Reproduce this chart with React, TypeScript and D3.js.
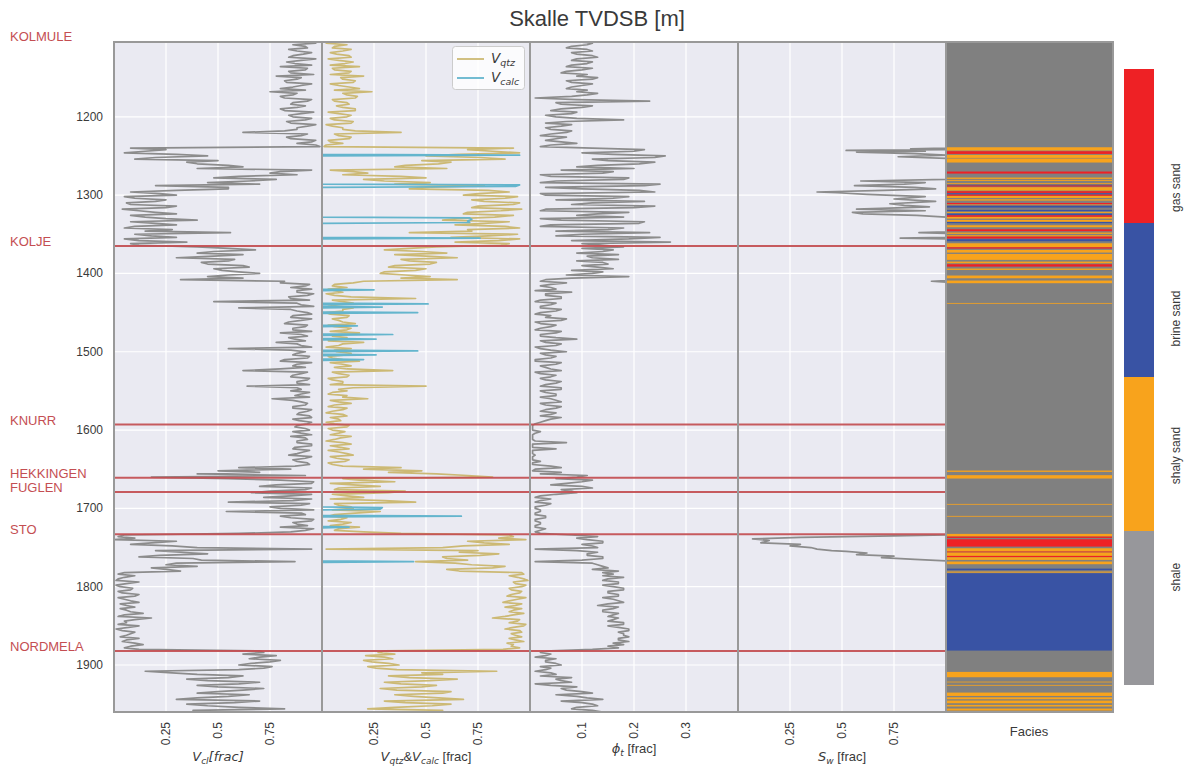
import React from "react";
import * as d3 from "d3";

// ---------------------------------------------------------------------------
// Log data. Each row: depth (m TVDSB) of the first sample, then one sample
// every DEPTH_STEP metres. The *_B rows hold the second reading of each
// interval, taken half a step deeper.
// ---------------------------------------------------------------------------
const DEPTH_STEP = 4;

const VCL_ROWS: number[][] = [
  [1104, .90, .86, .93, .88, .91, .84, .90, .87, .80, .92, .85, .78, .88, .83, .90, .80, .75, .86, .82, .93, .85, .88, .82, .90, .86, .92, .85, .93, .88, .62, .90, .85, .95, .97],
  [1240, .08, .15, .30, .20, .50, .40, .62, .95, .75, .60, .78, .45, .20, .55, .08, .30, .10, .20, .08, .25, .12, .30, .15, .40, .20, .10, .28, .56, .18, .05, .35, .12],
  [1368, .55, .48, .62, .30, .55, .45, .65, .52, .70, .45, .32, .80],
  [1416, .92, .95, .88, .93, .85, .48, .90, .60, .88, .95, .85, .90, .82, .92, .86, .80, .93, .87, .78, .90, .55, .92, .86, .93, .80, .88, .92, .62, .90, .85, .93],
  [1540, .88, .64, .90, .94, .87, .76, .90, .92, .86, .93, .88, .95, .89, .93, .87, .94, .90, .85, .93, .88, .95, .86, .91, .84, .92, .88, .94],
  [1648, .60, .50, .40, .18, .80, .95, .70, .92, .66, .85, .95, .55, .90, .80, .54, .92, .85, .95, .88, .80, .92, .60],
  [1736, .02, .00, .18, .28, .95, .32, .22, .38, .87, .25, .18, .32],
  [1784, .02, .05, .01, .06, .03, .08, .04, .10, .05, .12, .06, .03, .08, .05, .18, .05, .02, .07, .04, .08, .03, .06, .10, .08, .12],
  [1884, .72, .78, .65, .75, .60, .72, .15, .40, .55, .45, .60, .50, .62, .40, .55, .30, .58, .45, .82, .50],
];
const VCL_B_ROWS: number[][] = [
  [1106, .97, .92, .84, .95, .86, .97, .83, .95, .93, .84, .96, .90, .82, .95, .86, .92, .88, .80, .95, .86, .92, .80, .96, .84, .95, .83, .97, .88, .82, .93, .83, .97, .88, .99],
  [1242, .25, .05, .45, .10, .35, .55, .40, .80, .88, .48, .65, .70, .55, .30, .22, .05, .25, .06, .30, .04, .20, .08, .25, .08, .30, .05, .15, .10, .30, .12, .08, .40],
  [1370, .68, .40, .48, .58, .42, .62, .48, .60, .55, .62, .82, .94],
  [1418, .85, .88, .96, .84, .94, .88, .96, .85, .93, .86, .95, .84, .93, .86, .95, .90, .84, .92, .88, .95, .85, .88, .94, .82, .95, .86, .80, .93, .86, .94, .88],
  [1542, .94, .88, .85, .90, .94, .86, .93, .86, .95, .89, .94, .86, .95, .88, .92, .86, .95, .92, .88, .95, .87, .94, .88, .95, .86, .93, .87],
  [1650, .85, .70, .92, .55, .96, .78, .95, .75, .95, .72, .86, .94, .75, .96, .90, .80, .96, .86, .93, .96, .85, .05],
  [1738, .10, .30, .08, .40, .20, .45, .12, .42, .30, .40, .25, .05],
  [1786, .10, .02, .12, .01, .09, .02, .12, .02, .08, .03, .10, .06, .14, .02, .10, .06, .12, .01, .10, .06, .12, .04, .14, .05, .70],
  [1886, .62, .70, .80, .66, .76, .60, .28, .62, .35, .70, .40, .72, .50, .65, .40, .70, .35, .60, .38],
];

const VQTZ_ROWS: number[][] = [
  [1104, .08, .12, .05, .10, .07, .14, .08, .11, .18, .06, .13, .20, .10, .15, .08, .18, .24, .12, .16, .06, .13, .10, .16, .08, .12, .06, .14, .05, .10, .38, .08, .13, .04, .02],
  [1240, .92, .82, .66, .76, .48, .56, .35, .04, .22, .38, .20, .52, .78, .42, .90, .68, .88, .78, .92, .72, .86, .68, .83, .58, .78, .88, .70, .42, .80, .95, .64, .86],
  [1368, .42, .48, .35, .65, .42, .52, .32, .45, .28, .52, .65, .15],
  [1416, .05, .03, .10, .06, .45, .10, .08, .15, .10, .04, .12, .08, .16, .06, .12, .18, .05, .10, .20, .08, .14, .07, .12, .05, .18, .10, .06, .34, .08, .12, .05],
  [1540, .10, .50, .08, .05, .12, .22, .08, .06, .12, .05, .10, .04, .09, .06, .12, .05, .08, .14, .06, .10, .04, .13, .08, .15, .07, .11, .05],
  [1648, .38, .48, .55, .82, .18, .04, .28, .06, .32, .12, .04, .45, .08, .15, .28, .06, .12, .03, .10, .18, .06, .38],
  [1736, .92, .98, .78, .68, .02, .66, .76, .60, .45, .72, .82, .66],
  [1784, .97, .94, .99, .93, .96, .91, .95, .89, .94, .87, .93, .96, .90, .92, .82, .94, .98, .92, .95, .91, .96, .93, .89, .91, .87],
  [1884, .27, .21, .34, .24, .37, .26, .84, .58, .42, .52, .38, .48, .36, .58, .44, .68, .40, .53, .22, .48],
];
const VQTZ_B_ROWS: number[][] = [
  [1106, .02, .06, .14, .04, .13, .03, .15, .04, .05, .14, .04, .09, .16, .04, .13, .06, .10, .17, .05, .12, .07, .16, .03, .14, .04, .15, .02, .10, .16, .06, .14, .03, .10, .01],
  [1242, .70, .95, .50, .88, .62, .40, .60, .15, .10, .50, .30, .35, .48, .80, .75, .94, .72, .95, .75, .96, .70, .92, .65, .90, .64, .95, .72, .94, .62, .85, .90, .55],
  [1370, .30, .60, .50, .38, .55, .35, .50, .30, .40, .38, .20, .06],
  [1418, .12, .06, .02, .14, .05, .15, .03, .10, .02, .13, .05, .10, .03, .14, .04, .08, .12, .03, .10, .02, .06, .14, .03, .10, .04, .14, .12, .05, .13, .03, .10],
  [1542, .04, .15, .12, .03, .10, .04, .14, .03, .10, .02, .12, .08, .02, .13, .03, .11, .04, .09, .02, .14, .09, .03, .12, .04, .13, .03, .10],
  [1650, .20, .32, .70, .10, .35, .15, .08, .40, .05, .20, .30, .06, .14, .05, .16, .03, .09, .14, .04, .08, .20, .90],
  [1738, .85, .70, .90, .58, .75, .85, .58, .70, .64, .88, .60, .96],
  [1786, .90, .97, .92, .98, .90, .96, .91, .98, .90, .96, .88, .92, .97, .88, .95, .90, .97, .88, .96, .93, .90, .97, .92, .95, .30],
  [1886, .35, .30, .20, .32, .22, .36, .48, .32, .65, .30, .55, .28, .62, .35, .56, .30, .62, .35, .58],
];

const PHIT_ROWS: number[][] = [
  [1104, .09, .11, .07, .12, .09, .13, .08, .11, .07, .10, .06, .09, .12, .08, .10, .07, .09, .11, .01, .23, .06, .10, .04, .08, .05, .18, .03, .06, .04, .07, .02, .05, .06, .04],
  [1240, .12, .20, .16, .24, .15, .21, .09, .06, .14, .04, .18, .02, .22, .10, .24, .03, .16, .22, .08, .20, .02, .13, .18, .06, .21, .02, .15, .23, .05, .19, .27, .14],
  [1368, .10, .14, .17, .12, .09, .15, .13, .08, .12, .19, .03, .07],
  [1416, .02, .05, .08, .03, .06, .01, .04, .02, .05, .01, .03, .06, .02, .04, .01, .05, .02, .09, .03, .05, .02, .07, .03, .04, .01, .05, .03, .06, .02, .04, .03],
  [1540, .05, .02, .06, .03, .05, .04, .06, .03, .05, .02, .04, .06, .03, .01, .005, .005, .01, .005, .005, .07, .005, .05, .005, .01, .005, .02, .005],
  [1648, .06, .005, .02, .09, .12, .07, .10, .06, .09, .02, .04, .01, .03, .01, .02, .01, .03, .01, .02, .01, .02, .02],
  [1736, .13, .11, .14, .12, .01, .13, .11, .14, .01, .13, .15, .17],
  [1784, .16, .18, .14, .17, .16, .18, .15, .17, .16, .18, .13, .16, .14, .16, .17, .15, .18, .17, .19, .18, .19, .17, .16, .15, .12],
  [1884, .02, .03, .05, .03, .06, .04, .01, .05, .08, .06, .01, .09, .07, .12, .09, .14, .10, .13, .08, .14],
];
const PHIT_B_ROWS: number[][] = [
  [1106, .12, .08, .11, .08, .12, .09, .12, .08, .12, .07, .11, .13, .07, .12, .08, .11, .13, .08, .09, .05, .12, .06, .09, .03, .09, .07, .08, .03, .08, .04, .07, .03, .09, .02],
  [1242, .22, .10, .26, .12, .24, .13, .20, .16, .02, .19, .05, .25, .03, .21, .02, .19, .05, .12, .24, .03, .19, .09, .02, .22, .04, .18, .05, .10, .25, .08, .10, .18],
  [1370, .16, .09, .11, .17, .14, .10, .16, .14, .07, .08, .02, .04],
  [1418, .04, .01, .03, .06, .02, .05, .02, .06, .02, .04, .07, .01, .05, .02, .06, .02, .05, .02, .06, .01, .04, .02, .05, .01, .06, .02, .04, .01, .05, .02, .06],
  [1542, .03, .06, .02, .05, .02, .05, .02, .06, .03, .05, .02, .04, .02, .005, .005, .02, .005, .005, .01, .005, .005, .005, .005, .005, .005, .005, .04],
  [1650, .01, .06, .11, .05, .10, .04, .12, .08, .05, .01, .02, .04, .01, .02, .01, .03, .01, .02, .01, .03, .01, .08],
  [1738, .09, .14, .10, .13, .09, .11, .14, .10, .12, .14, .12, .14],
  [1786, .14, .15, .17, .14, .18, .15, .17, .14, .17, .15, .17, .14, .17, .15, .16, .18, .15, .19, .17, .18, .17, .19, .18, .17, .04],
  [1886, .04, .01, .03, .05, .02, .03, .04, .02, .05, .08, .04, .06, .10, .05, .11, .06, .12, .09, .12],
];

// Sparse picks [depth, value]: water saturation (1 outside the hydrocarbon zones)
const SW_POINTS: [number, number][] = [
  [1104, 1], [1240, 1], [1241, .83], [1242, 1], [1243, .52], [1244, .9], [1245, .57], [1247, .85], [1249, 1],
  [1251, .77], [1253, 1], [1280, 1], [1282, .59], [1284, .9], [1286, .8], [1288, .56], [1290, .85], [1292, .95],
  [1294, .7], [1296, .38], [1297, .48], [1299, .62], [1302, .9], [1305, .75], [1308, .95], [1311, .73], [1313, .8],
  [1315, .92], [1318, .57], [1320, .9], [1322, .55], [1324, .6], [1326, .86], [1328, 1], [1347, 1], [1348, .87],
  [1349, 1], [1354, 1], [1355, .78], [1356, 1], [1409, 1], [1410, .93], [1411, 1], [1734, 1], [1735, .75],
  [1737, .3], [1739, .07], [1741, .15], [1744, .11], [1746, .30], [1748, .25], [1750, .35], [1752, .38],
  [1754, .45], [1755, .52], [1757, .62], [1759, .57], [1761, .75], [1763, .69], [1765, .85], [1767, 1], [1960, 1],
];

// Sparse picks [depth, value]: calcite volume (0 between the stringers)
const VCALC_POINTS: [number, number][] = [
  [1104, 0], [1248, 0], [1249, .95], [1250, 0], [1286, 0], [1287, .95], [1289, .93], [1290, 0],
  [1328, 0], [1329, .71], [1331, .72], [1333, .70], [1335, .71], [1336, 0], [1354, 0], [1355, .76], [1356, 0],
  [1420, 0], [1421, .25], [1422, 0], [1438, 0], [1439, .51], [1440, 0], [1442, 0], [1443, .29], [1444, 0],
  [1449, 0], [1450, .46], [1451, 0], [1466, 0], [1467, .17], [1468, 0], [1477, 0], [1478, .34], [1479, 0],
  [1483, 0], [1484, .26], [1485, 0], [1498, 0], [1499, .46], [1500, 0], [1503, 0], [1504, .26], [1505, 0],
  [1509, 0], [1510, .20], [1511, 0], [1698, 0], [1699, .29], [1701, .28], [1702, 0], [1709, 0], [1710, .67],
  [1711, 0], [1723, 0], [1724, .13], [1725, 0], [1767, 0], [1768, .44], [1769, 0], [1960, 0],
];

// Facies intervals [top, base, code]; code 0 shale, 1 shaly sand, 2 brine sand, 3 gas sand
const FACIES_INTERVALS: [number, number, number][] = [
  [1238.9, 1243.1, 1], [1244.0, 1247.4, 3], [1248.6, 1252.5, 1], [1253.3, 1258.4, 1], [1269.9, 1272.5, 3],
  [1277.6, 1279.3, 1], [1280.6, 1281.8, 1], [1284.8, 1286.5, 1], [1286.5, 1287.8, 2], [1287.8, 1289.1, 3],
  [1289.9, 1294.2, 1], [1295.0, 1297.2, 3], [1297.6, 1299.3, 2], [1299.3, 1301.0, 3], [1301.0, 1303.6, 1],
  [1305.3, 1307.0, 1], [1310.0, 1311.6, 3], [1312.1, 1313.3, 1], [1313.3, 1315.9, 2], [1318.9, 1320.6, 2],
  [1321.4, 1322.7, 1], [1323.6, 1325.7, 2], [1325.7, 1327.8, 3], [1327.8, 1330.0, 1], [1331.7, 1334.2, 1],
  [1334.2, 1335.9, 2], [1338.5, 1341.0, 1], [1343.6, 1346.1, 3], [1347.8, 1349.5, 1], [1351.2, 1352.9, 1],
  [1352.9, 1355.5, 3], [1356.3, 1358.9, 2], [1361.5, 1366.6, 1], [1366.6, 1368.3, 3], [1370.0, 1373.4, 1],
  [1375.1, 1382.7, 1], [1384.9, 1387.0, 1], [1388.3, 1391.3, 3], [1393.8, 1395.5, 1], [1402.7, 1406.2, 1],
  [1409.1, 1412.5, 1], [1437.7, 1438.4, 1],
  [1651.7, 1653.4, 1], [1657.6, 1661.9, 1], [1694.3, 1695.0, 1], [1709.6, 1710.3, 1],
  [1732.6, 1736.0, 1], [1736.0, 1737.7, 3], [1739.4, 1748.8, 3], [1750.9, 1755.1, 1], [1755.1, 1756.4, 3],
  [1756.4, 1760.7, 1], [1760.7, 1762.4, 3], [1762.4, 1765.8, 1], [1767.9, 1771.3, 1], [1776.9, 1779.0, 2],
  [1780.7, 1782.0, 1], [1782.8, 1881.6, 2],
  [1908.8, 1915.6, 1], [1921.2, 1921.8, 1], [1925.4, 1926.0, 1], [1935.2, 1939.5, 1], [1941.2, 1943.7, 1],
  [1945.4, 1948.8, 1], [1950.9, 1953.0, 1], [1955.6, 1958.2, 1],
];

const FACIES_NAMES = ["shale", "shaly sand", "brine sand", "gas sand"];
const FACIES_LABEL_POS = [0.70, 1.49, 2.38, 3.23];

// Formation tops
const TOP_NAMES = ["KOLMULE", "KOLJE", "KNURR", "HEKKINGEN", "FUGLEN", "STO", "NORDMELA"];
const TOP_DEPTHS = [1103.5, 1365, 1593, 1661, 1679, 1733, 1882];

const DEPTH_TICKS = [1200, 1300, 1400, 1500, 1600, 1700, 1800, 1900];
const FRAC_TICKS = [0.25, 0.5, 0.75];
const PHI_TICKS = [0.1, 0.2, 0.3];

const TITLE = "Skalle TVDSB [m]";

// ---------------------------------------------------------------------------
// Styling
// ---------------------------------------------------------------------------
const BG = "#EAEAF2";
const SPINE = "#999999";
const GREY = "#8C8C8C";
const GOLD = "#CCB974";
const CYAN = "#64B5CD";
const RED = "#C44E52";
const TEXT = "#3a3a3a";
const SANS = "'Liberation Sans', Arial, sans-serif";
const MATH = "'DejaVu Sans', sans-serif";
const FACIES_FILL = ["#808080", "#F8A31C", "#3953A4", "#EE2125"];
const FACIES_BAR = ["#97979B", "#F8A31C", "#3953A4", "#EE2125"];

const TOP_Y = 42;
const BOTTOM_Y = 712;

function rowsToPoints(rows: number[][]): [number, number][] {
  const pts: [number, number][] = [];
  rows.forEach((row) => {
    const [start, ...vals] = row;
    vals.forEach((v, i) => pts.push([start + i * DEPTH_STEP, v]));
  });
  return pts;
}

function logPoints(a: number[][], b: number[][]): [number, number][] {
  return [...rowsToPoints(a), ...rowsToPoints(b)].sort((p, q) => p[0] - q[0]);
}

const y = d3.scaleLinear().domain([1104.5, 1960]).range([TOP_Y, BOTTOM_Y]);

type Panel = {
  id: string;
  x: d3.ScaleLinear<number, number>;
  ticks: number[];
};

const PANELS: Panel[] = [
  { id: "vcl", x: d3.scaleLinear().domain([0, 1]).range([114, 322]), ticks: FRAC_TICKS },
  { id: "vqtz", x: d3.scaleLinear().domain([0, 1]).range([322, 530]), ticks: FRAC_TICKS },
  { id: "phit", x: d3.scaleLinear().domain([0, 0.4]).range([530, 738]), ticks: PHI_TICKS },
  { id: "sw", x: d3.scaleLinear().domain([0, 1]).range([738, 946]), ticks: FRAC_TICKS },
];
const FACIES_X0 = 946;
const FACIES_X1 = 1113;

function curvePath(pts: [number, number][], x: d3.ScaleLinear<number, number>) {
  return (
    d3
      .line<[number, number]>()
      .x((p) => x(p[1]))
      .y((p) => y(p[0]))(pts) ?? ""
  );
}

const cbar = d3.scaleLinear().domain([0, 4]).range([685, 69]);

export default function App() {
  const [pVcl, pVqtz, pPhi, pSw] = PANELS;
  const curves = [
    { panel: pVcl, d: curvePath(logPoints(VCL_ROWS, VCL_B_ROWS), pVcl.x), color: GREY },
    { panel: pVqtz, d: curvePath(logPoints(VQTZ_ROWS, VQTZ_B_ROWS), pVqtz.x), color: GOLD },
    { panel: pVqtz, d: curvePath(VCALC_POINTS, pVqtz.x), color: CYAN },
    { panel: pPhi, d: curvePath(logPoints(PHIT_ROWS, PHIT_B_ROWS), pPhi.x), color: GREY },
    { panel: pSw, d: curvePath(SW_POINTS, pSw.x), color: GREY },
  ];
  const [d0, d1] = y.domain();

  return (
    <svg
      width={1184}
      height={767}
      style={{ position: "absolute", left: 0, top: 0, background: "#fff" }}
      fontFamily={SANS}
    >
      <defs>
        {PANELS.map((p) => (
          <clipPath id={`clip-${p.id}`} key={p.id}>
            <rect x={p.x.range()[0]} y={TOP_Y} width={p.x.range()[1] - p.x.range()[0]} height={BOTTOM_Y - TOP_Y} />
          </clipPath>
        ))}
      </defs>

      <text x={597} y={26} textAnchor="middle" fontSize={22} fill={TEXT}>
        {TITLE}
      </text>

      {/* log track backgrounds and grid */}
      {PANELS.map((p) => {
        const [x0, x1] = p.x.range();
        return (
          <g key={p.id}>
            <rect x={x0} y={TOP_Y} width={x1 - x0} height={BOTTOM_Y - TOP_Y} fill={BG} />
            {DEPTH_TICKS.map((t) => (
              <line key={t} x1={x0} x2={x1} y1={y(t)} y2={y(t)} stroke="#fff" strokeWidth={1.2} />
            ))}
            {p.ticks.map((t) => (
              <line key={t} x1={p.x(t)} x2={p.x(t)} y1={TOP_Y} y2={BOTTOM_Y} stroke="#fff" strokeWidth={1.2} />
            ))}
            {p.ticks.map((t) => (
              <text
                key={`l${t}`}
                transform={`translate(${p.x(t)},${722}) rotate(-90)`}
                textAnchor="end"
                dominantBaseline="central"
                fontSize={12}
                fill={TEXT}
              >
                {String(t)}
              </text>
            ))}
          </g>
        );
      })}

      {/* curves */}
      {curves.map((c, i) => (
        <path
          key={i}
          d={c.d}
          fill="none"
          stroke={c.color}
          strokeWidth={1.7}
          strokeLinejoin="round"
          clipPath={`url(#clip-${c.panel.id})`}
        />
      ))}

      {/* formation tops across the log tracks */}
      {TOP_DEPTHS.filter((d) => d >= d0 && d <= d1).map((d) => (
        <line key={d} x1={114} x2={946} y1={y(d)} y2={y(d)} stroke={RED} strokeWidth={2} opacity={0.92} />
      ))}

      {/* track frames */}
      {PANELS.map((p) => {
        const [x0, x1] = p.x.range();
        return (
          <rect key={p.id} x={x0} y={TOP_Y} width={x1 - x0} height={BOTTOM_Y - TOP_Y} fill="none" stroke={SPINE} strokeWidth={2} />
        );
      })}

      {/* facies track */}
      <rect x={FACIES_X0} y={TOP_Y} width={FACIES_X1 - FACIES_X0} height={BOTTOM_Y - TOP_Y} fill={FACIES_FILL[0]} />
      {FACIES_INTERVALS.map(([t, b, c], i) => (
        <rect
          key={i}
          x={FACIES_X0}
          y={y(t)}
          width={FACIES_X1 - FACIES_X0}
          height={Math.max(0.8, y(b) - y(t))}
          fill={FACIES_FILL[c]}
        />
      ))}
      <rect x={FACIES_X0} y={TOP_Y} width={FACIES_X1 - FACIES_X0} height={BOTTOM_Y - TOP_Y} fill="none" stroke={SPINE} strokeWidth={2} />

      {/* depth ticks */}
      {DEPTH_TICKS.map((t) => (
        <text key={t} x={103} y={y(t)} textAnchor="end" dominantBaseline="central" fontSize={12} fill={TEXT}>
          {t}
        </text>
      ))}

      {/* formation names */}
      {TOP_NAMES.map((n, i) => (
        <text key={n} x={10} y={y(TOP_DEPTHS[i])} fontSize={13} fill={RED}>
          {n}
        </text>
      ))}

      {/* axis titles */}
      <text x={218} y={761} textAnchor="middle" fontSize={13} fill={TEXT} fontFamily={MATH} fontStyle="italic">
        V<tspan fontSize={9} dy={3}>cl</tspan>
        <tspan dy={-3}>[frac]</tspan>
      </text>
      <text x={426} y={761} textAnchor="middle" fontSize={13} fill={TEXT}>
        <tspan fontFamily={MATH} fontStyle="italic">V</tspan>
        <tspan fontFamily={MATH} fontStyle="italic" fontSize={9} dy={3}>qtz</tspan>
        <tspan dy={-3}>&amp;</tspan>
        <tspan fontFamily={MATH} fontStyle="italic">V</tspan>
        <tspan fontFamily={MATH} fontStyle="italic" fontSize={9} dy={3}>calc</tspan>
        <tspan dy={-3}> [frac]</tspan>
      </text>
      <text x={634} y={753} textAnchor="middle" fontSize={13} fill={TEXT}>
        <tspan fontFamily={MATH} fontStyle="italic">ϕ</tspan>
        <tspan fontFamily={MATH} fontStyle="italic" fontSize={9} dy={3}>t</tspan>
        <tspan dy={-3}> [frac]</tspan>
      </text>
      <text x={842} y={761} textAnchor="middle" fontSize={13} fill={TEXT}>
        <tspan fontFamily={MATH} fontStyle="italic">S</tspan>
        <tspan fontFamily={MATH} fontStyle="italic" fontSize={9} dy={3}>w</tspan>
        <tspan dy={-3}> [frac]</tspan>
      </text>
      <text x={1029} y={736} textAnchor="middle" fontSize={13} fill={TEXT}>
        Facies
      </text>

      {/* legend */}
      <g>
        <rect x={452.5} y={46.5} width={72} height={43} rx={3} fill="#fff" fillOpacity={0.8} stroke="#cccccc" strokeWidth={1} />
        <line x1={457} x2={484} y1={59} y2={59} stroke={GOLD} strokeWidth={1.8} />
        <line x1={457} x2={484} y1={78} y2={78} stroke={CYAN} strokeWidth={1.8} />
        <text x={491} y={63} fontSize={13.5} fill={TEXT} fontFamily={MATH} fontStyle="italic">
          V<tspan fontSize={9.5} dy={3}>qtz</tspan>
        </text>
        <text x={491} y={82} fontSize={13.5} fill={TEXT} fontFamily={MATH} fontStyle="italic">
          V<tspan fontSize={9.5} dy={3}>calc</tspan>
        </text>
      </g>

      {/* facies colour bar */}
      {FACIES_NAMES.map((n, i) => (
        <rect key={n} x={1124} y={cbar(i + 1)} width={30} height={cbar(i) - cbar(i + 1)} fill={FACIES_BAR[i]} />
      ))}
      {FACIES_NAMES.map((n, i) => (
        <text
          key={`t${n}`}
          transform={`translate(${1176},${cbar(FACIES_LABEL_POS[i])}) rotate(-90)`}
          textAnchor="middle"
          dominantBaseline="central"
          fontSize={12}
          fill={TEXT}
        >
          {n}
        </text>
      ))}
    </svg>
  );
}
